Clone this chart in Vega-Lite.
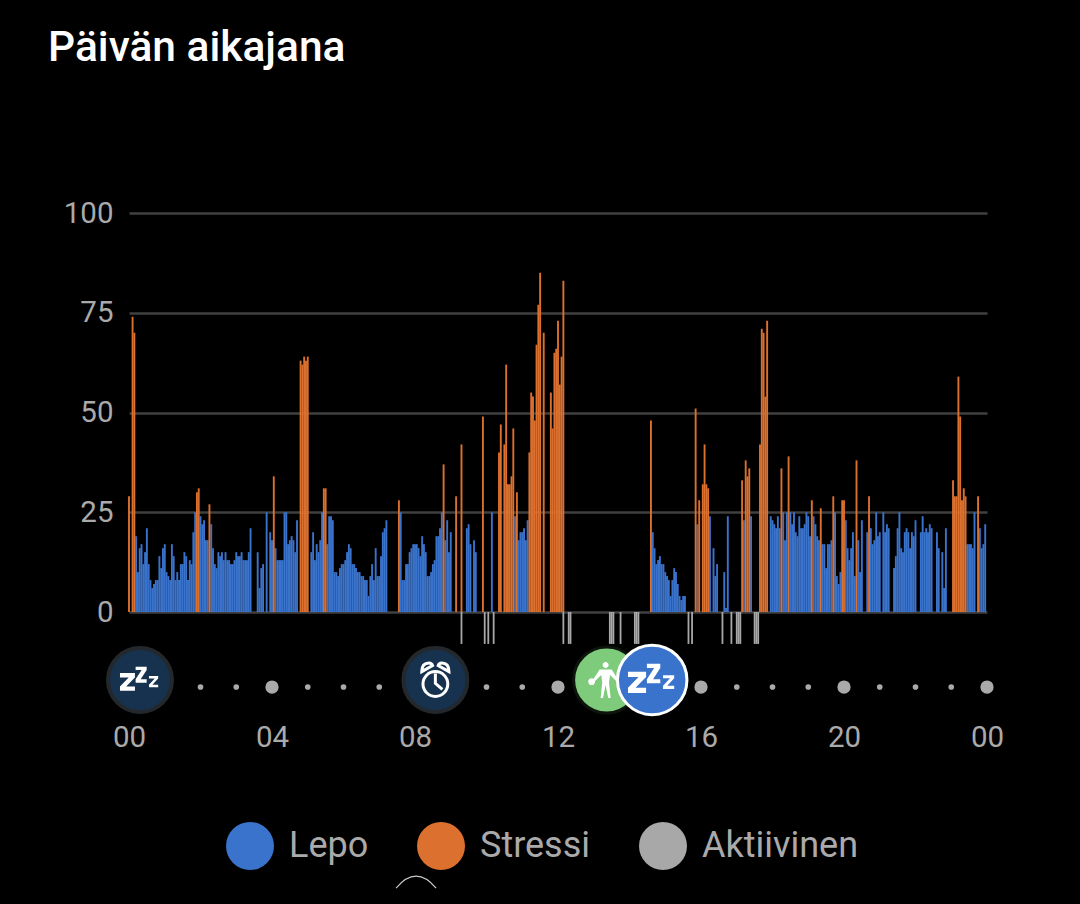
{"$schema":"https://vega.github.io/schema/vega-lite/v6.json","width":858,"height":399,"autosize":{"type":"none"},"padding":{"left":129,"top":213,"right":93,"bottom":292},"background":"#000000","config":{"view":{"stroke":null},"font":"Roboto"},
"title":{"text":"Päivän aikajana","anchor":"start","frame":"group","dx":-81,"offset":129,"fontSize":42.5,"fontWeight":500,"font":"Roboto","color":"#ffffff"},
"datasets":{
"lepo":[{"slot":4,"v":19},{"slot":5,"v":10},{"slot":6,"v":16},{"slot":7,"v":17},{"slot":8,"v":12},{"slot":9,"v":15},{"slot":10,"v":21},{"slot":11,"v":12},{"slot":12,"v":8},{"slot":13,"v":6},{"slot":14,"v":7},{"slot":15,"v":8},{"slot":16,"v":8},{"slot":17,"v":14},{"slot":18,"v":11},{"slot":19,"v":16},{"slot":20,"v":17},{"slot":21,"v":10},{"slot":22,"v":9},{"slot":23,"v":8},{"slot":24,"v":17},{"slot":25,"v":14},{"slot":26,"v":8},{"slot":27,"v":10},{"slot":28,"v":8},{"slot":29,"v":12},{"slot":30,"v":12},{"slot":31,"v":15},{"slot":32,"v":14},{"slot":33,"v":8},{"slot":34,"v":13},{"slot":35,"v":12},{"slot":36,"v":20},{"slot":37,"v":25},{"slot":40,"v":24},{"slot":41,"v":22},{"slot":42,"v":23},{"slot":43,"v":18},{"slot":44,"v":18},{"slot":46,"v":22},{"slot":47,"v":16},{"slot":48,"v":12},{"slot":49,"v":11},{"slot":50,"v":15},{"slot":51,"v":14},{"slot":52,"v":15},{"slot":53,"v":13},{"slot":54,"v":15},{"slot":55,"v":13},{"slot":56,"v":13},{"slot":57,"v":12},{"slot":58,"v":12},{"slot":59,"v":13},{"slot":60,"v":15},{"slot":61,"v":14},{"slot":62,"v":14},{"slot":63,"v":15},{"slot":64,"v":13},{"slot":65,"v":13},{"slot":66,"v":13},{"slot":67,"v":15},{"slot":68,"v":21},{"slot":72,"v":15},{"slot":73,"v":6},{"slot":74,"v":11},{"slot":75,"v":12},{"slot":77,"v":25},{"slot":79,"v":20},{"slot":80,"v":18},{"slot":82,"v":16},{"slot":83,"v":13},{"slot":84,"v":13},{"slot":85,"v":13},{"slot":86,"v":13},{"slot":87,"v":25},{"slot":88,"v":25},{"slot":89,"v":17},{"slot":90,"v":18},{"slot":91,"v":19},{"slot":92,"v":18},{"slot":93,"v":15},{"slot":94,"v":23},{"slot":102,"v":15},{"slot":103,"v":20},{"slot":104,"v":13},{"slot":105,"v":17},{"slot":106,"v":15},{"slot":107,"v":18},{"slot":108,"v":25},{"slot":111,"v":17},{"slot":112,"v":24},{"slot":113,"v":24},{"slot":114,"v":23},{"slot":115,"v":10},{"slot":116,"v":10},{"slot":117,"v":9},{"slot":118,"v":11},{"slot":119,"v":12},{"slot":120,"v":12},{"slot":121,"v":13},{"slot":122,"v":15},{"slot":123,"v":17},{"slot":124,"v":16},{"slot":125,"v":12},{"slot":126,"v":12},{"slot":127,"v":11},{"slot":128,"v":10},{"slot":129,"v":10},{"slot":130,"v":9},{"slot":131,"v":9},{"slot":132,"v":8},{"slot":133,"v":8},{"slot":134,"v":4},{"slot":135,"v":9},{"slot":136,"v":12},{"slot":137,"v":8},{"slot":138,"v":16},{"slot":139,"v":9},{"slot":140,"v":9},{"slot":141,"v":14},{"slot":142,"v":20},{"slot":143,"v":21},{"slot":144,"v":23},{"slot":152,"v":25},{"slot":153,"v":8},{"slot":154,"v":8},{"slot":155,"v":12},{"slot":156,"v":12},{"slot":157,"v":15},{"slot":158,"v":16},{"slot":159,"v":17},{"slot":160,"v":17},{"slot":161,"v":17},{"slot":162,"v":16},{"slot":163,"v":14},{"slot":164,"v":19},{"slot":165,"v":17},{"slot":166,"v":15},{"slot":167,"v":9},{"slot":168,"v":9},{"slot":169,"v":10},{"slot":170,"v":12},{"slot":171,"v":13},{"slot":172,"v":19},{"slot":173,"v":19},{"slot":174,"v":21},{"slot":175,"v":25},{"slot":177,"v":18},{"slot":178,"v":23},{"slot":179,"v":15},{"slot":180,"v":20},{"slot":189,"v":21},{"slot":190,"v":22},{"slot":191,"v":17},{"slot":193,"v":18},{"slot":194,"v":15},{"slot":203,"v":25},{"slot":216,"v":24},{"slot":218,"v":18},{"slot":219,"v":20},{"slot":220,"v":20},{"slot":221,"v":21},{"slot":222,"v":18},{"slot":223,"v":23},{"slot":293,"v":20},{"slot":294,"v":16},{"slot":295,"v":12},{"slot":296,"v":13},{"slot":297,"v":14},{"slot":298,"v":12},{"slot":299,"v":12},{"slot":300,"v":10},{"slot":301,"v":9},{"slot":302,"v":8},{"slot":303,"v":4},{"slot":304,"v":8},{"slot":305,"v":11},{"slot":306,"v":10},{"slot":307,"v":7},{"slot":308,"v":4},{"slot":309,"v":3},{"slot":310,"v":4},{"slot":311,"v":4},{"slot":318,"v":22},{"slot":325,"v":24},{"slot":327,"v":16},{"slot":328,"v":9},{"slot":329,"v":12},{"slot":333,"v":10},{"slot":334,"v":1},{"slot":335,"v":24},{"slot":344,"v":23},{"slot":348,"v":24},{"slot":359,"v":24},{"slot":360,"v":23},{"slot":361,"v":22},{"slot":362,"v":21},{"slot":363,"v":24},{"slot":364,"v":21},{"slot":366,"v":25},{"slot":367,"v":18},{"slot":368,"v":25},{"slot":370,"v":25},{"slot":371,"v":22},{"slot":372,"v":25},{"slot":373,"v":20},{"slot":374,"v":19},{"slot":375,"v":24},{"slot":376,"v":21},{"slot":377,"v":21},{"slot":378,"v":22},{"slot":379,"v":25},{"slot":380,"v":24},{"slot":381,"v":19},{"slot":383,"v":24},{"slot":384,"v":22},{"slot":385,"v":19},{"slot":386,"v":18},{"slot":388,"v":17},{"slot":389,"v":17},{"slot":390,"v":11},{"slot":391,"v":17},{"slot":392,"v":17},{"slot":393,"v":18},{"slot":395,"v":25},{"slot":396,"v":9},{"slot":397,"v":7},{"slot":398,"v":10},{"slot":401,"v":23},{"slot":402,"v":16},{"slot":403,"v":13},{"slot":404,"v":16},{"slot":405,"v":20},{"slot":406,"v":9},{"slot":408,"v":18},{"slot":409,"v":10},{"slot":410,"v":23},{"slot":413,"v":20},{"slot":415,"v":21},{"slot":416,"v":17},{"slot":417,"v":18},{"slot":418,"v":25},{"slot":419,"v":19},{"slot":420,"v":20},{"slot":422,"v":25},{"slot":423,"v":20},{"slot":424,"v":22},{"slot":425,"v":21},{"slot":428,"v":11},{"slot":429,"v":14},{"slot":430,"v":21},{"slot":431,"v":25},{"slot":432,"v":16},{"slot":433,"v":15},{"slot":434,"v":20},{"slot":435,"v":21},{"slot":436,"v":20},{"slot":437,"v":16},{"slot":438,"v":20},{"slot":439,"v":19},{"slot":440,"v":23},{"slot":443,"v":20},{"slot":444,"v":24},{"slot":445,"v":20},{"slot":446,"v":21},{"slot":447,"v":20},{"slot":448,"v":22},{"slot":449,"v":21},{"slot":452,"v":20},{"slot":453,"v":16},{"slot":455,"v":15},{"slot":456,"v":6},{"slot":457,"v":21},{"slot":469,"v":17},{"slot":470,"v":17},{"slot":471,"v":17},{"slot":472,"v":16},{"slot":473,"v":25},{"slot":476,"v":21},{"slot":477,"v":16},{"slot":478,"v":17},{"slot":479,"v":22}],
"stressi":[{"slot":0,"v":29},{"slot":2,"v":74},{"slot":3,"v":70},{"slot":38,"v":30},{"slot":39,"v":31},{"slot":45,"v":27},{"slot":81,"v":34},{"slot":96,"v":63},{"slot":97,"v":62},{"slot":98,"v":64},{"slot":99,"v":63},{"slot":100,"v":64},{"slot":109,"v":31},{"slot":110,"v":31},{"slot":151,"v":28},{"slot":176,"v":37},{"slot":183,"v":29},{"slot":186,"v":42},{"slot":198,"v":49},{"slot":207,"v":40},{"slot":208,"v":47},{"slot":210,"v":42},{"slot":211,"v":62},{"slot":212,"v":32},{"slot":213,"v":32},{"slot":214,"v":34},{"slot":215,"v":46},{"slot":217,"v":30},{"slot":224,"v":40},{"slot":225,"v":55},{"slot":226,"v":54},{"slot":227,"v":48},{"slot":228,"v":67},{"slot":229,"v":77},{"slot":230,"v":85},{"slot":232,"v":70},{"slot":236,"v":55},{"slot":237,"v":46},{"slot":238,"v":65},{"slot":239,"v":66},{"slot":240,"v":73},{"slot":241,"v":57},{"slot":242,"v":64},{"slot":243,"v":83},{"slot":292,"v":48},{"slot":317,"v":51},{"slot":319,"v":28},{"slot":321,"v":32},{"slot":322,"v":42},{"slot":323,"v":32},{"slot":324,"v":31},{"slot":343,"v":33},{"slot":345,"v":38},{"slot":346,"v":34},{"slot":347,"v":36},{"slot":353,"v":42},{"slot":354,"v":71},{"slot":355,"v":70},{"slot":356,"v":54},{"slot":357,"v":73},{"slot":365,"v":36},{"slot":369,"v":39},{"slot":382,"v":28},{"slot":387,"v":26},{"slot":394,"v":29},{"slot":399,"v":28},{"slot":400,"v":28},{"slot":407,"v":38},{"slot":414,"v":29},{"slot":461,"v":33},{"slot":462,"v":29},{"slot":463,"v":29},{"slot":464,"v":59},{"slot":465,"v":49},{"slot":466,"v":28},{"slot":467,"v":31},{"slot":468,"v":29},{"slot":475,"v":29}],
"aktiivinen":[{"slot":186,"v":-8},{"slot":199,"v":-8},{"slot":201,"v":-8},{"slot":204,"v":-8},{"slot":243,"v":-8},{"slot":246,"v":-8},{"slot":247,"v":-8},{"slot":269,"v":-8},{"slot":270,"v":-8},{"slot":271,"v":-8},{"slot":275,"v":-8},{"slot":283,"v":-8},{"slot":284,"v":-8},{"slot":285,"v":-8},{"slot":313,"v":-8},{"slot":315,"v":-8},{"slot":332,"v":-8},{"slot":337,"v":-8},{"slot":340,"v":-8},{"slot":341,"v":-8},{"slot":342,"v":-8},{"slot":350,"v":-8},{"slot":351,"v":-8},{"slot":352,"v":-8}]
},
"layer":[
{"data":{"name":"lepo"},"mark":{"type":"bar","orient":"vertical","size":1.9},"encoding":{
"x":{"field":"slot","type":"quantitative","scale":{"domain":[0,480],"nice":false,"zero":false,"padding":0},"axis":{"title":null,"values":[0,80,160,240,320,400,480],"labelExpr":"(datum.value%480<200?'0':'')+(datum.value%480)/20","domain":false,"ticks":false,"grid":false,"labelPadding":111,"labelFontSize":29.5,"labelColor":"#aaaaaa","labelFont":"Roboto","labelFontWeight":400,"labelFlush":false,"labelOverlap":false}},
"y":{"field":"v","type":"quantitative","stack":null,"scale":{"domain":[0,100],"nice":false,"padding":0},"axis":{"title":null,"values":[0,25,50,75,100],"domain":false,"ticks":false,"grid":true,"gridColor":"#404040","gridWidth":2.5,"labelPadding":16,"labelFontSize":29.5,"labelColor":"#aaaaaa","labelFont":"Roboto","labelFontWeight":400}},
"color":{"datum":"Lepo","scale":{"domain":["Lepo","Stressi","Aktiivinen"],"range":["#3a73cc","#dc702e","#a8a8a8"]},"legend":{"title":null,"orient":"none","legendX":97,"legendY":609,"direction":"horizontal","columns":3,"symbolType":"circle","symbolSize":2304,"symbolStrokeWidth":0,"symbolOpacity":1,"labelFontSize":36,"labelFont":"Roboto","labelFontWeight":400,"labelColor":"#aaaaaa","labelOffset":15,"columnPadding":48,"padding":0,"gridAlign":"none"}}}},
{"data":{"name":"stressi"},"mark":{"type":"bar","orient":"vertical","size":1.9},"encoding":{"x":{"field":"slot","type":"quantitative"},"y":{"field":"v","type":"quantitative","stack":null},"color":{"datum":"Stressi"}}},
{"data":{"name":"aktiivinen"},"mark":{"type":"bar","orient":"vertical","size":1.8},"encoding":{"x":{"field":"slot","type":"quantitative"},"y":{"field":"v","type":"quantitative","stack":null},"color":{"datum":"Aktiivinen"}}},
{"data":{"values":[{"slot":40,"level":-18.8},{"slot":60,"level":-18.8},{"slot":100,"level":-18.8},{"slot":120,"level":-18.8},{"slot":140,"level":-18.8},{"slot":200,"level":-18.8},{"slot":220,"level":-18.8},{"slot":340,"level":-18.8},{"slot":360,"level":-18.8},{"slot":380,"level":-18.8},{"slot":420,"level":-18.8},{"slot":440,"level":-18.8},{"slot":460,"level":-18.8}]},"mark":{"type":"point","shape":"circle","filled":true,"size":32,"color":"#aaaaaa","opacity":1},"encoding":{"x":{"field":"slot","type":"quantitative"},"y":{"field":"level","type":"quantitative"}}},
{"data":{"values":[{"slot":80,"level":-18.8},{"slot":240,"level":-18.8},{"slot":320,"level":-18.8},{"slot":400,"level":-18.8},{"slot":480,"level":-18.8}]},"mark":{"type":"point","shape":"circle","filled":true,"size":176,"color":"#aaaaaa","opacity":1},"encoding":{"x":{"field":"slot","type":"quantitative"},"y":{"field":"level","type":"quantitative"}}},
{"data":{"values":[{"slot":6.15,"level":-17.04},{"slot":171.4,"level":-17.04}]},"mark":{"type":"point","shape":"circle","filled":true,"size":4096,"fill":"#17324f","stroke":"#23282c","strokeWidth":4,"opacity":1},"encoding":{"x":{"field":"slot","type":"quantitative"},"y":{"field":"level","type":"quantitative"}}},
{"data":{"values":[{"slot":267.2,"level":-17.04}]},"mark":{"type":"point","shape":"circle","filled":true,"size":4356,"fill":"#7fcb7c","stroke":"#0c140c","strokeWidth":3,"opacity":1},"encoding":{"x":{"field":"slot","type":"quantitative"},"y":{"field":"level","type":"quantitative"}}},
{"data":{"values":[{"slot":267.2,"level":-17.04}]},"mark":{"type":"point","shape":"M-0.35,-0.52 H0.25 L0.62,0.05 L0.55,0.12 L0.17,-0.25 L0.12,0.12 L0.2,0.9 H0.08 L-0.05,0.25 L-0.18,0.9 H-0.3 L-0.22,0.12 L-0.27,-0.25 L-0.65,0.12 L-0.72,0.05 Z M-0.2,-0.75 a0.15,0.15 0 1,1 0.3,0 a0.15,0.15 0 1,1 -0.3,0Z M-0.92,0.085 a0.17,0.17 0 1,1 0.34,0 a0.17,0.17 0 1,1 -0.34,0Z","filled":true,"size":1600,"fill":"#ffffff","strokeWidth":0,"opacity":1},"encoding":{"x":{"field":"slot","type":"quantitative"},"y":{"field":"level","type":"quantitative"}}},
{"data":{"values":[{"slot":292.7,"level":-17.04}]},"mark":{"type":"point","shape":"circle","filled":true,"size":4830,"fill":"#3a73cc","stroke":"#ffffff","strokeWidth":3,"opacity":1},"encoding":{"x":{"field":"slot","type":"quantitative"},"y":{"field":"level","type":"quantitative"}}},
{"data":{"values":[{"slot":6.15,"level":-17.04}]},"mark":{"type":"point","shape":"M-0.87,-0.30 H-0.22 V-0.11 L-0.6,0.28 H-0.22 V0.47 H-0.87 V0.28 L-0.49,-0.11 H-0.87Z M-0.19,-0.58 H0.29 V-0.43 L0.03,-0.03 H0.29 V0.12 H-0.19 V-0.03 L0.07,-0.43 H-0.19Z M0.39,-0.17 H0.79 V-0.06 L0.54,0.21 H0.79 V0.32 H0.39 V0.21 L0.64,-0.06 H0.39Z","filled":true,"size":2116,"fill":"#ffffff","strokeWidth":0,"opacity":1},"encoding":{"x":{"field":"slot","type":"quantitative"},"y":{"field":"level","type":"quantitative"}}},
{"data":{"values":[{"slot":292.7,"level":-17.04}]},"mark":{"type":"point","shape":"M-0.87,-0.30 H-0.22 V-0.11 L-0.6,0.28 H-0.22 V0.47 H-0.87 V0.28 L-0.49,-0.11 H-0.87Z M-0.19,-0.58 H0.29 V-0.43 L0.03,-0.03 H0.29 V0.12 H-0.19 V-0.03 L0.07,-0.43 H-0.19Z M0.39,-0.17 H0.79 V-0.06 L0.54,0.21 H0.79 V0.32 H0.39 V0.21 L0.64,-0.06 H0.39Z","filled":true,"size":3100,"fill":"#ffffff","strokeWidth":0,"opacity":1},"encoding":{"x":{"field":"slot","type":"quantitative"},"y":{"field":"level","type":"quantitative"}}},
{"data":{"values":[{"slot":171.4,"level":-17.04}]},"mark":{"type":"point","shape":"M-0.62,0.2 a0.62,0.62 0 1,0 1.24,0 a0.62,0.62 0 1,0 -1.24,0Z M0,-0.32 V0.17 L0.35,0.47 M-0.68,-0.42 Q-0.68,-0.85 -0.32,-0.85 Q-0.18,-0.85 -0.14,-0.72 Z M0.68,-0.42 Q0.68,-0.85 0.32,-0.85 Q0.18,-0.85 0.14,-0.72 Z","filled":false,"size":1600,"stroke":"#ffffff","strokeWidth":3,"opacity":1},"encoding":{"x":{"field":"slot","type":"quantitative"},"y":{"field":"level","type":"quantitative"}}},
{"data":{"values":[{"slot":160.6,"level":-67.7}]},"mark":{"type":"point","shape":"M-1,0.3 Q0,-0.9 1,0.3","filled":false,"size":1600,"stroke":"#c8c8c8","strokeWidth":1.2,"opacity":1},"encoding":{"x":{"field":"slot","type":"quantitative"},"y":{"field":"level","type":"quantitative"}}}
]}
